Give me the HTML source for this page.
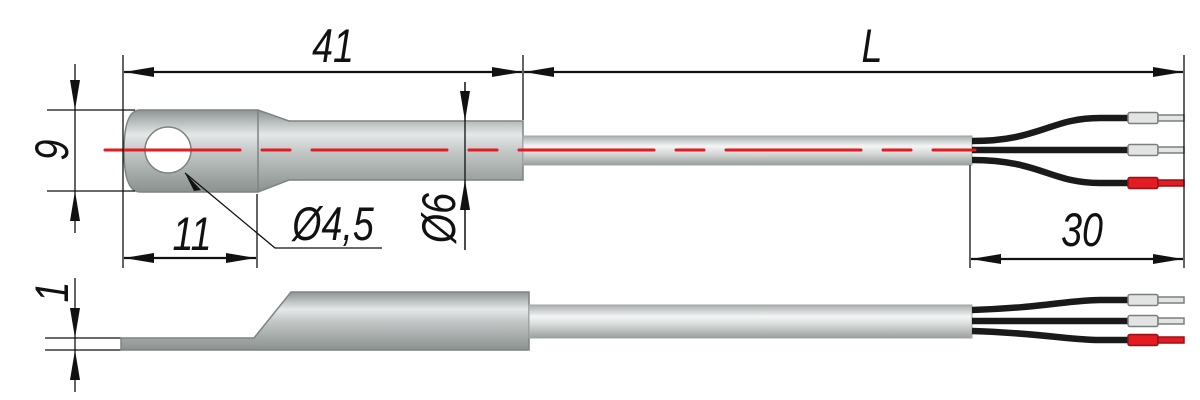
<!DOCTYPE html>
<html><head><meta charset="utf-8"><style>
html,body{margin:0;padding:0;background:#fff;}
svg{display:block;}
text{font-family:"Liberation Sans",sans-serif;font-style:italic;fill:#111;}
</style></head><body>
<svg width="1200" height="400" viewBox="0 0 1200 400" xmlns="http://www.w3.org/2000/svg">
<defs>
<linearGradient id="g1" x1="0" y1="0" x2="0" y2="1">
<stop offset="0" stop-color="#8e9494"/><stop offset="0.3" stop-color="#e4e8e8"/><stop offset="0.5" stop-color="#c4c9c8"/><stop offset="1" stop-color="#8a918f"/>
</linearGradient>
<linearGradient id="g2" x1="0" y1="0" x2="0" y2="1">
<stop offset="0" stop-color="#a9aeae"/><stop offset="0.35" stop-color="#f4f6f6"/><stop offset="0.6" stop-color="#d6d9d8"/><stop offset="1" stop-color="#9aa09f"/>
</linearGradient>
<marker id="a" viewBox="0 0 30 12" refX="30" refY="6" markerWidth="30" markerHeight="12" markerUnits="userSpaceOnUse" orient="auto-start-reverse"><path d="M0,1 L30,6 L0,11Z" fill="#111"/></marker>
</defs>

<path d="M140,110 L258,110 L289,121 L523,121 L523,180 L289,180 L258,192 L140,192 Q124,192 124,151 Q124,110 140,110Z" fill="url(#g1)" stroke="#7d8482" stroke-width="1.5"/>
<line x1="258" y1="110" x2="258" y2="192" stroke="#7d8482" stroke-width="1.5"/>
<circle cx="168" cy="150" r="23" fill="#fff" stroke="#7d8482" stroke-width="1.5"/>
<rect x="523" y="136" width="449" height="29" fill="url(#g2)" stroke="#a0a5a4" stroke-width="1"/>
<g fill="none" stroke="#1a1a1a" stroke-width="6.5">
<path d="M972,141 C1040,141 1050,118 1100,118 L1130,118"/>
<path d="M972,150 L1130,150"/>
<path d="M972,160 C1040,160 1050,183 1100,183 L1130,183"/>
</g>
<g stroke-width="1.5">
<rect x="1128" y="112.5" width="30" height="11" rx="2" fill="#e2e4e3" stroke="#7b7f7e"/>
<rect x="1158" y="115" width="26" height="6" fill="#e2e4e3" stroke="#7b7f7e"/>
<rect x="1128" y="144.5" width="30" height="11" rx="2" fill="#e2e4e3" stroke="#7b7f7e"/>
<rect x="1158" y="147" width="26" height="6" fill="#e2e4e3" stroke="#7b7f7e"/>
<rect x="1128" y="177.5" width="30" height="11" rx="2" fill="#e31b23" stroke="#9a1016"/>
<rect x="1158" y="180" width="26" height="6" fill="#e31b23" stroke="#9a1016"/>
</g>
<line x1="105" y1="150" x2="975" y2="150" stroke="#e31b23" stroke-width="3" stroke-dasharray="135,22,28,22" stroke-linecap="round"/>

<g stroke="#111" stroke-width="1.3" fill="none">
<line x1="123" y1="55" x2="123" y2="268"/>
<line x1="523" y1="55" x2="523" y2="120"/>
<line x1="1184" y1="55" x2="1184" y2="268"/>
<line x1="970" y1="165" x2="970" y2="268"/>
<line x1="257" y1="194" x2="257" y2="268"/>
<line x1="47" y1="110" x2="135" y2="110"/>
<line x1="47" y1="191" x2="135" y2="191"/>
<line x1="465" y1="82" x2="465" y2="250"/>
<path d="M185,173 L275,248 L382,248"/>
<line x1="45" y1="338" x2="121" y2="338"/>
<line x1="45" y1="350" x2="121" y2="350"/>
</g>
<g stroke="#111" stroke-width="2.2" fill="none">
<line x1="124" y1="72" x2="522" y2="72" marker-start="url(#a)" marker-end="url(#a)"/>
<line x1="524" y1="72" x2="1183" y2="72" marker-start="url(#a)" marker-end="url(#a)"/>
<line x1="124" y1="258" x2="256" y2="258" marker-start="url(#a)" marker-end="url(#a)"/>
<line x1="971" y1="259" x2="1183" y2="259" marker-start="url(#a)" marker-end="url(#a)"/>
<line x1="75" y1="64" x2="75" y2="110" marker-end="url(#a)" stroke-width="1.3"/>
<line x1="75" y1="233" x2="75" y2="191" marker-end="url(#a)" stroke-width="1.3"/>
<line x1="75" y1="110" x2="75" y2="191" stroke-width="1.3"/>
<line x1="465" y1="82" x2="465" y2="121" marker-end="url(#a)" stroke-width="1.3"/>
<line x1="465" y1="250" x2="465" y2="180" marker-end="url(#a)" stroke-width="1.3"/>
<line x1="75" y1="278" x2="75" y2="338" marker-end="url(#a)" stroke-width="1.3"/>
<line x1="75" y1="392" x2="75" y2="350" marker-end="url(#a)" stroke-width="1.3"/>
<line x1="75" y1="338" x2="75" y2="350" stroke-width="1.3"/>
</g>
<path d="M201,190 L185,173 L194,191Z" fill="#111"/>

<g font-size="47" text-anchor="middle">
<text transform="translate(333,62) scale(0.8,1)">41</text>
<text transform="translate(872,62) scale(0.8,1)">L</text>
<text transform="translate(192,250) scale(0.8,1)">11</text>
<text transform="translate(333,240) scale(0.8,1)">Ø4,5</text>
<text transform="translate(1082,246) scale(0.8,1)">30</text>
<text transform="translate(68,150) rotate(-90) scale(0.8,1)">9</text>
<text transform="translate(455,218) rotate(-90) scale(0.8,1)">Ø6</text>
<text transform="translate(68,292) rotate(-90) scale(0.8,1)">1</text>
</g>

<path d="M121,338 L254,338 L291,292 L529,292 L529,350 L121,350Z" fill="url(#g1)" stroke="#7d8482" stroke-width="1.5"/>
<rect x="529" y="305" width="443" height="33" fill="url(#g2)" stroke="#a0a5a4" stroke-width="1"/>
<g fill="none" stroke="#1a1a1a" stroke-width="6.5">
<path d="M972,310 C1040,308 1070,300 1100,300 L1130,300"/>
<path d="M972,321 L1130,321"/>
<path d="M972,331 C1040,333 1070,340 1100,340 L1130,340"/>
</g>
<g stroke-width="1.5">
<rect x="1128" y="294.5" width="30" height="11" rx="2" fill="#e2e4e3" stroke="#7b7f7e"/>
<rect x="1158" y="297" width="26" height="6" fill="#e2e4e3" stroke="#7b7f7e"/>
<rect x="1128" y="315.5" width="30" height="11" rx="2" fill="#e2e4e3" stroke="#7b7f7e"/>
<rect x="1158" y="318" width="26" height="6" fill="#e2e4e3" stroke="#7b7f7e"/>
<rect x="1128" y="334.5" width="30" height="11" rx="2" fill="#e31b23" stroke="#9a1016"/>
<rect x="1158" y="337" width="26" height="6" fill="#e31b23" stroke="#9a1016"/>
</g>
</svg>
</body></html>
